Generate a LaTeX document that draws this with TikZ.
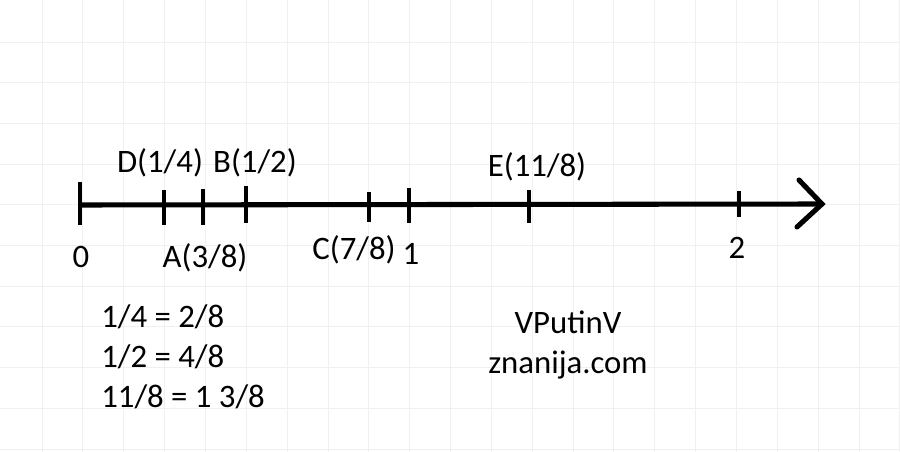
\documentclass[tikz,border=0pt]{standalone}
\usepackage{fontspec}
\setmainfont{Carlito}
\begin{document}
\begin{tikzpicture}[x=0.025cm, y=-0.025cm,
      gridline/.style={draw=black!6, line width=0.6pt},
      axisline/.style={line width=3.6pt},
      tickline/.style={line width=3.4pt},
      every node/.style={inner sep=0pt, anchor=base,
        font=\fontsize{23.3}{28}\selectfont},]
    \useasboundingbox (0,0) rectangle (900,452);
    \fill[white] (0,0) rectangle (900,452);
    % squared paper
    \foreach \i in {0,...,21}
      \draw[gridline] ({42+40.85*\i},0) -- ++(0,452);
    \foreach \j in {0,...,10}
      \draw[gridline] (0,{42+40.7*\j}) -- ++(900,0);
    % axis
    \coordinate (start) at (80,205);
    \coordinate (tip) at (822,204);
    \draw[axisline] (start) -- (tip);
    \draw[axisline, line cap=round, line join=miter]
      (799,180) -- (tip) -- (797,227);
    % ticks
    \draw[tickline] (80,182) -- (80,225);
    \draw[tickline] (164,190) -- (164,225);
    \draw[tickline] (203,189) -- (203,225);
    \draw[tickline] (246,186) -- (246,223);
    \draw[tickline] (369,192) -- (369,222);
    \draw[tickline] (409,188) -- (409,223);
    \draw[tickline] (529,190) -- (529,223);
    \draw[tickline] (739,191) -- (739,217);
    % labels above
    \node (D) at (160,173) {D(1/4)};
    \node (B) at (255,173) {B(1/2)};
    \node (E) at (537,177) {E(11/8)};
    % labels below
    \node (zero) at (81,268) {0};
    \node (A) at (205,268) {A(3/8)};
    \node (C) at (354,260) {C(7/8)};
    \node (one) at (411,265) {1};
    \node (two) at (737,259) {2};
    % notes
    \node[anchor=base west] (n1) at (101,327) {1/4 = 2/8};
    \node[anchor=base west] (n2) at (101,367) {1/2 = 4/8};
    \node[anchor=base west] (n3) at (101,407) {11/8 = 1 3/8};
    \node (sig1) at (568,333) {VPutinV};
    \node (sig2) at (568,373) {znanija.com};
\end{tikzpicture}
\end{document}
